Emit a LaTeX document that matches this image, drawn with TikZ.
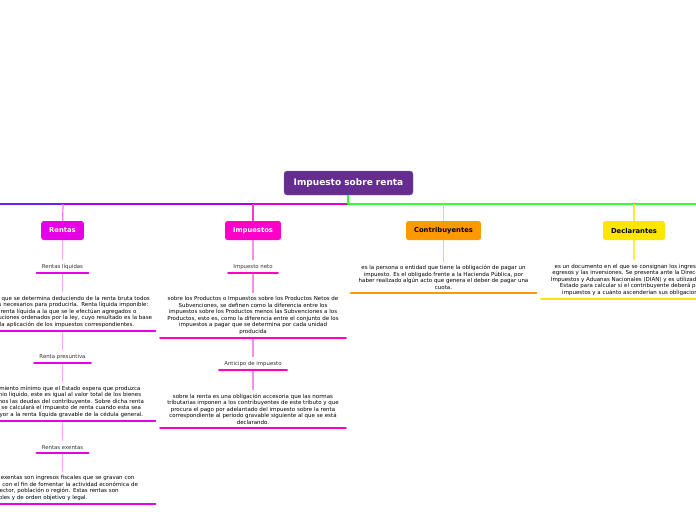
\documentclass[tikz,border=0pt]{standalone}
\usepackage{fontspec}
\setmainfont{DejaVu Sans}
\usetikzlibrary{positioning}

\definecolor{rootpurple}{HTML}{662D91}
\definecolor{busviolet}{HTML}{6E22F0}
\definecolor{buspurple}{HTML}{A800F0}
\definecolor{buspink}{HTML}{E000D0}
\definecolor{busgreen}{HTML}{33FF33}
\definecolor{rentascol}{HTML}{E600E6}
\definecolor{impcol}{HTML}{FF00C8}
\definecolor{contcol}{HTML}{FF9900}
\definecolor{declcol}{HTML}{FFE600}

\begin{document}
\begin{tikzpicture}[
    x=1pt, y=-1pt,
    root/.style={fill=rootpurple, draw=rootpurple!75, rounded corners=3pt, text=white,
      font=\fontsize{9}{11}\selectfont\bfseries, minimum width=129pt, minimum height=24pt},
    branch/.style={fill=#1, rounded corners=2.5pt, inner xsep=8pt, minimum height=19pt,
      font=\fontsize{6.8}{8}\selectfont\bfseries},
    sublabel/.style={anchor=south, inner xsep=5pt, inner ysep=3.6pt, text=black!80,
      font=\fontsize{5.4}{6.5}\selectfont},
    desc/.style={anchor=south, inner xsep=0.5pt, inner ysep=3.5pt, text=black,
      font=\fontsize{5.5}{6.45}\selectfont},
    bar/.style={draw=#1, line width=2.6pt, line cap=round},
    link/.style={draw=#1, line width=1.2pt},
    bus/.style={draw=#1, line width=2pt}
  ]

  % Page
  \useasboundingbox (0,0) rectangle (696,520);
  \clip (0,0) rectangle (696,520);

  %------------------ Root and bus ------------------%
  \node[root] (root) at (348.5,183) {Impuesto sobre renta};

  \coordinate (busL)   at (0,204);
  \coordinate (hRent)  at (63,204);
  \coordinate (hImp)   at (253,204);
  \coordinate (hub)    at (348,204);
  \coordinate (hCont)  at (443.5,204);
  \coordinate (hDecl)  at (634,204);
  \coordinate (busR)   at (696,204);

  \draw[bus=busviolet] (busL) -- (hRent);
  \draw[bus=buspurple] (hRent) -- (hImp);
  \draw[bus=buspink]   (hImp) -- (hub);
  \draw[bus=busgreen]  (hub) -- (busR);
  \draw[bus=busgreen]  (root) -- (hub);

  %------------------ Rentas ------------------%
  \begin{scope}[xshift=62.5pt]
    \node[branch=rentascol, text=white] (rentas) at (0,230.5) {Rentas};

    % Rentas liquidas
    \node[sublabel] (liq) at (0,273) {Rentas líquidas};
    \node[desc, text width=184pt, align=left] (liqtxt) at (0,331)
      {es la renta que se determina deduciendo de la renta bruta todos\\
       los egresos necesarios para producirla. Renta líquida imponible:\\
       es aquella renta líquida a la que se le efectúan agregados o\\
       las disminuciones ordenados por la ley, cuyo resultado es la base\\
       legal para la aplicación de los impuestos correspondientes.};

    % Renta presuntiva
    \node[sublabel] (pres) at (0,363) {Renta presuntiva};
    \node[desc, text width=184pt, align=left] (prestxt) at (0,421)
      {es el rendimiento mínimo que el Estado espera que produzca\\
       el patrimonio líquido, este es igual al valor total de los bienes\\
       brutos menos las deudas del contribuyente. Sobre dicha renta\\
       presuntiva se calculará el impuesto de renta cuando esta sea\\
       igual o mayor a la renta líquida gravable de la cédula general.};

    % Rentas exentas
    \node[sublabel] (exen) at (0,453) {Rentas exentas};
    \node[desc, text width=184pt, align=left] (exentxt) at (0,504)
      {Las rentas exentas son ingresos fiscales que se gravan con\\
       tarifa cero, con el fin de fomentar la actividad económica de\\
       un cierto sector, población o región. Estas rentas son\\
       intransferibles y de orden objetivo y legal.};

    \draw[link=rentascol!55] (hRent) -- (rentas);
    \draw[link=rentascol!35] (rentas) -- (liq);
    \draw[link=rentascol!35] (liq) -- (liqtxt);
    \draw[link=rentascol!35] (liqtxt) -- (pres);
    \draw[link=rentascol!35] (pres) -- (prestxt);
    \draw[link=rentascol!35] (prestxt) -- (exen);
    \draw[link=rentascol!35] (exen) -- (exentxt);

    \draw[bar=rentascol] (liq.south west) -- (liq.south east);
    \draw[bar=rentascol] (liqtxt.south west) -- (liqtxt.south east);
    \draw[bar=rentascol] (pres.south west) -- (pres.south east);
    \draw[bar=rentascol] (prestxt.south west) -- (prestxt.south east);
    \draw[bar=rentascol] (exen.south west) -- (exen.south east);
    \draw[bar=rentascol] (exentxt.south west) -- (exentxt.south east);
  \end{scope}

  %------------------ Impuestos ------------------%
  \begin{scope}[xshift=253pt]
    \node[branch=impcol, text=white] (imp) at (0,230.5) {Impuestos};

    % Impuesto neto
    \node[sublabel] (neto) at (0,273) {Impuesto neto};
    \node[desc, minimum width=185pt, align=center] (netotxt) at (0,338)
      {sobre los Productos o Impuestos sobre los Productos Netos de\\
       Subvenciones, se definen como la diferencia entre los\\
       impuestos sobre los Productos menos las Subvenciones a los\\
       Productos, esto es, como la diferencia entre el conjunto de los\\
       impuestos a pagar que se determina por cada unidad\\
       producida};

    % Anticipo de impuesto
    \node[sublabel] (antic) at (0,370) {Anticipo de impuesto};
    \node[desc, minimum width=185pt, align=center] (antictxt) at (0,428)
      {sobre la renta es una obligación accesoria que las normas\\
       tributarias imponen a los contribuyentes de este tributo y que\\
       procura el pago por adelantado del impuesto sobre la renta\\
       correspondiente al periodo gravable siguiente al que se está\\
       declarando.};

    \draw[link=impcol!80] (hImp) -- (imp);
    \draw[link=impcol!45] (imp) -- (neto);
    \draw[link=impcol!45] (neto) -- (netotxt);
    \draw[link=impcol!45] (netotxt) -- (antic);
    \draw[link=impcol!45] (antic) -- (antictxt);

    \draw[bar=impcol] (neto.south west) -- (neto.south east);
    \draw[bar=impcol] (netotxt.south west) -- (netotxt.south east);
    \draw[bar=impcol] (antic.south west) -- (antic.south east);
    \draw[bar=impcol] (antictxt.south west) -- (antictxt.south east);
  \end{scope}

  %------------------ Contribuyentes ------------------%
  \begin{scope}[xshift=443.5pt]
    \node[branch=contcol, text=black] (cont) at (0,230.5) {Contribuyentes};
    \node[desc, minimum width=185pt, align=center] (conttxt) at (0,293)
      {es la persona o entidad que tiene la obligación de pagar un\\
       impuesto. Es el obligado frente a la Hacienda Pública, por\\
       haber realizado algún acto que genera el deber de pagar una\\
       cuota.};

    \draw[link=contcol!50] (hCont) -- (cont);
    \draw[link=contcol!50] (cont) -- (conttxt);
    \draw[bar=contcol] (conttxt.south west) -- (conttxt.south east);
  \end{scope}

  %------------------ Declarantes ------------------%
  \begin{scope}[xshift=634pt]
    \node[branch=declcol, text=black] (decl) at (0,230.5) {Declarantes};
    \node[desc, minimum width=185pt, align=center] (decltxt) at (0,299)
      {es un documento en el que se consignan los ingresos, los\\
       egresos y las inversiones. Se presenta ante la Dirección de\\
       Impuestos y Aduanas Nacionales (DIAN) y es utilizado por el\\
       Estado para calcular si el contribuyente deberá pagar\\
       impuestos y a cuánto ascenderían sus obligaciones.};

    \draw[link=declcol!80] (hDecl) -- (decl);
    \draw[link=declcol!70] (decl) -- (decltxt);
    \draw[bar=declcol] (decltxt.south west) -- (decltxt.south east);
  \end{scope}

\end{tikzpicture}
\end{document}
